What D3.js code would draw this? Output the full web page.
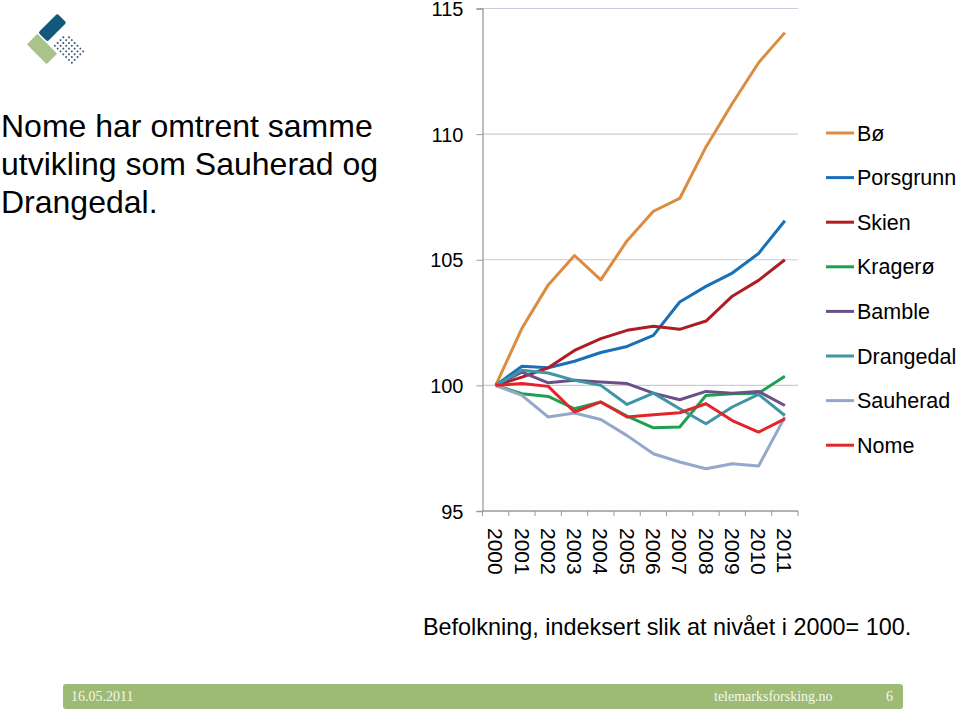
<!DOCTYPE html>
<html>
<head>
<meta charset="utf-8">
<script src="https://cdn.jsdelivr.net/npm/d3@7/dist/d3.min.js"></script>
<style>
  html, body { margin: 0; padding: 0; background: #fff; }
  svg { display: block; font-family: "Liberation Sans", Arial, sans-serif; }
</style>
</head>
<body>
<svg id="chart" width="959" height="712"></svg>
<script>
const years = ["2000","2001","2002","2003","2004","2005","2006","2007","2008","2009","2010","2011"];
const yTicks = [95, 100, 105, 110, 115];
const seriesNames = ["Bø","Porsgrunn","Skien","Kragerø","Bamble","Drangedal","Sauherad","Nome"];
const seriesColors = ["#DB8C40","#1B6FB6","#AE1D22","#1DA150","#6B5088","#3F95A5","#93A8CB","#E2252A"];
const boValues        = [100, 102.27, 104.0, 105.17, 104.2, 105.76, 106.93, 107.44, 109.49, 111.22, 112.84, 114.04];
const porsgrunnValues = [100, 100.76, 100.7, 100.96, 101.31, 101.55, 101.99, 103.32, 103.94, 104.47, 105.25, 106.55];
const skienValues     = [100, 100.33, 100.7, 101.39, 101.86, 102.19, 102.35, 102.23, 102.56, 103.55, 104.18, 105.0];
const krageroValues   = [100, 99.67, 99.56, 99.07, 99.34, 98.78, 98.31, 98.34, 99.6, 99.67, 99.69, 100.36];
const bambleValues    = [100, 100.53, 100.1, 100.2, 100.13, 100.07, 99.69, 99.43, 99.76, 99.69, 99.76, 99.2];
const drangedalValues = [100, 100.6, 100.49, 100.2, 100.0, 99.24, 99.69, 99.07, 98.47, 99.14, 99.64, 98.8];
const sauheradValues  = [100, 99.6, 98.74, 98.9, 98.64, 98.0, 97.28, 96.95, 96.68, 96.88, 96.79, 98.74];
const nomeValues      = [100, 100.07, 99.96, 98.94, 99.34, 98.74, 98.83, 98.91, 99.27, 98.6, 98.14, 98.67];
const allValues = [boValues, porsgrunnValues, skienValues, krageroValues, bambleValues, drangedalValues, sauheradValues, nomeValues];
const titleLines = ["Nome har omtrent samme", "utvikling som Sauherad og", "Drangedal."];
const caption = "Befolkning, indeksert slik at nivået i 2000= 100.";

const svg = d3.select("#chart");

// ---- logo (decorative) ----
const logo = svg.append("g");
logo.append("rect").attr("x", -13).attr("y", -6.5).attr("width", 27).attr("height", 13).attr("rx", 2)
  .attr("fill", "#11587A").attr("transform", "translate(52,28) rotate(-45)");
logo.append("rect").attr("x", -14).attr("y", -7.5).attr("width", 28).attr("height", 15).attr("rx", 1)
  .attr("fill", "#A9C48B").attr("transform", "translate(42,49) rotate(45)");
const dots = logo.append("g").attr("transform", "translate(69,50) rotate(45)");
for (let i = 0; i < 7; i++) for (let j = 0; j < 5; j++) {
  if (i + j < 1) continue;
  dots.append("circle").attr("cx", -13 + i * 4).attr("cy", -9 + j * 4).attr("r", 1)
    .attr("fill", "#3B5874");
}

// ---- title ----
const title = svg.append("text").attr("x", 1).attr("font-size", 32).attr("fill", "#000");
titleLines.forEach((t, i) => title.append("tspan").attr("x", 1).attr("y", 137 + i * 38).text(t));

// ---- scales ----
const x = d3.scaleBand().domain(years).range([482.5, 798]);
const y = d3.scaleLinear().domain([95, 115]).range([511, 8.5]);
const cx = d => x(d) + x.bandwidth() / 2;

// gridlines
svg.append("g").selectAll("line").data(yTicks.filter(v => v > 95)).join("line")
  .attr("x1", 482.5).attr("x2", 798).attr("y1", d => y(d)).attr("y2", d => y(d))
  .attr("stroke", "#C6CEDB").attr("stroke-width", 1.2);

// y axis
const yAxis = svg.append("g").attr("transform", "translate(482.5,0)")
  .call(d3.axisLeft(y).tickValues(yTicks).tickSize(6).tickPadding(13).tickFormat(d3.format("d")));
yAxis.select(".domain").attr("stroke", "#9A9A9A").attr("stroke-width", 1.3);
yAxis.selectAll(".tick line").attr("stroke", "#9A9A9A");
yAxis.selectAll("text").attr("font-size", 20).attr("fill", "#000").attr("dy", "0.36em")
  .attr("font-family", "Liberation Sans, Arial, sans-serif");

// x axis baseline & ticks at band edges
const xg = svg.append("g");
xg.append("line").attr("x1", 482.5).attr("x2", 798).attr("y1", y(95)).attr("y2", y(95))
  .attr("stroke", "#9A9A9A").attr("stroke-width", 1.3);
const edges = years.map(d => x(d)).concat([x(years[years.length - 1]) + x.bandwidth()]);
xg.selectAll("line.tk").data(edges).join("line").attr("class", "tk")
  .attr("x1", d => d).attr("x2", d => d).attr("y1", y(95)).attr("y2", y(95) + 5)
  .attr("stroke", "#9A9A9A");
xg.selectAll("text").data(years).join("text")
  .attr("transform", d => `translate(${cx(d)},528) rotate(90)`)
  .attr("dy", "0.35em").attr("font-size", 21).attr("fill", "#000").text(d => d);

// lines
const line = d3.line().x((d, i) => cx(years[i])).y(d => y(d));
svg.append("g").selectAll("path").data(allValues).join("path")
  .attr("d", d => line(d)).attr("fill", "none")
  .attr("stroke", (d, i) => seriesColors[i]).attr("stroke-width", 3)
  .attr("stroke-linejoin", "round");

// legend
const legend = svg.append("g").selectAll("g").data(seriesNames).join("g")
  .attr("transform", (d, i) => `translate(826,${133 + i * 44.6})`);
legend.append("line").attr("x1", 0).attr("x2", 28).attr("stroke", (d, i) => seriesColors[i]).attr("stroke-width", 3);
legend.append("text").attr("x", 31).attr("dy", "0.35em").attr("font-size", 21.5).attr("fill", "#000").text(d => d);

// caption
svg.append("text").attr("x", 423).attr("y", 635).attr("font-size", 23.4).attr("fill", "#000").text(caption);

// footer
svg.append("rect").attr("x", 63).attr("y", 684).attr("width", 840).attr("height", 25).attr("rx", 3).attr("fill", "#9DBB74");
const ff = "Liberation Serif, Times New Roman, serif";
svg.append("text").attr("x", 71).attr("y", 701).attr("font-family", ff).attr("font-size", 14).attr("fill", "#F4F7EE").text("16.05.2011");
svg.append("text").attr("x", 714).attr("y", 701).attr("font-family", ff).attr("font-size", 14).attr("fill", "#F4F7EE").text("telemarksforsking.no");
svg.append("text").attr("x", 886).attr("y", 701).attr("font-family", ff).attr("font-size", 14).attr("fill", "#F4F7EE").text("6");
</script>
</body>
</html>
